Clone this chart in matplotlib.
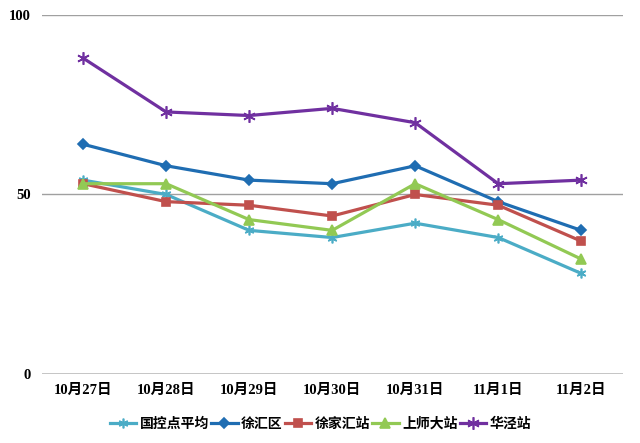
import matplotlib
matplotlib.use("Agg")
import matplotlib.pyplot as plt

# data
dates = ['10月27日', '10月28日', '10月29日', '10月30日', '10月31日', '11月1日', '11月2日']
guokong_avg = [54, 50, 40, 38, 42, 38, 28]
xuhui = [64, 58, 54, 53, 58, 48, 40]
xujiahui = [53, 48, 47, 44, 50, 47, 37]
shangshida = [53, 53, 43, 40, 53, 43, 32]
huajing = [88, 73, 72, 74, 70, 53, 54]

series = [
    ('国控点平均', guokong_avg, '#4bacc6', (6, 2, 0), 7),
    ('徐汇区', xuhui, '#1f6db2', 'D', 5),
    ('徐家汇站', xujiahui, '#c0504d', 's', 6),
    ('上师大站', shangshida, '#92c954', '^', 7),
    ('华泾站', huajing, '#7030a0', (6, 2, 0), 9),
]

num_font = ['Liberation Serif', 'Noto Sans CJK SC']

fig = plt.figure(figsize=(6.4, 4.43), dpi=100)
ax = fig.add_axes([0.065, 0.156, 0.908, 0.81])

x = list(range(len(dates)))
for name, vals, color, marker, ms in series:
    ax.plot(x, vals, color=color, lw=2.3, marker=marker, ms=ms,
            mec=color, mfc=color, mew=1.2, label=name)

ax.set_xlim(-0.5, len(dates) - 0.5)
ax.set_ylim(0, 100)
ax.set_yticks([0, 50, 100])
ax.set_yticklabels(['0', '50', '100'], fontfamily=num_font, fontweight='bold', fontsize=10.5)
ax.set_xticks(x)
ax.set_xticklabels(dates, fontfamily=num_font, fontweight='bold', fontsize=10.5)
ax.tick_params(axis='both', length=0)
ax.tick_params(axis='x', pad=7)
ax.tick_params(axis='y', pad=8)

for v in [50, 100]:
    ax.axhline(v, color='#a0a0a0', lw=1, zorder=0)
ax.axhline(0, color='#c0c0c0', lw=2, zorder=0)
for s in ax.spines.values():
    s.set_visible(False)

ax.legend(loc='upper center', bbox_to_anchor=(0.48, -0.085), ncol=5, frameon=False,
          prop={'family': ['Noto Sans CJK SC'], 'weight': 'bold', 'size': 10},
          handlelength=1.9, handletextpad=0.25, columnspacing=0.15)

fig.savefig('out.png', dpi=100)
